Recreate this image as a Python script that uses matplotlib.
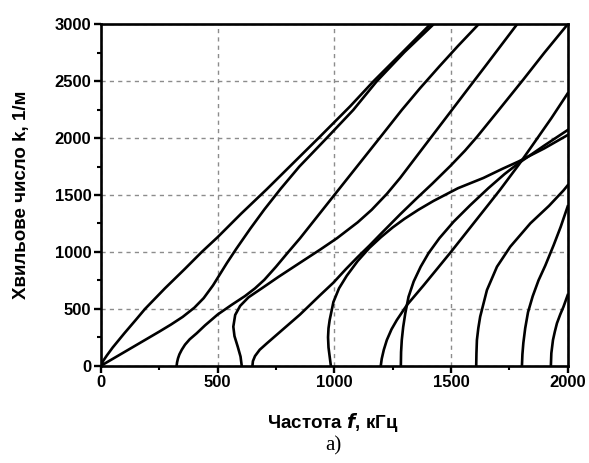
import matplotlib
matplotlib.use("Agg")
import matplotlib.pyplot as plt
from matplotlib.ticker import MultipleLocator

plt.rcParams['font.family'] = ['Liberation Sans Narrow', 'Liberation Sans', 'DejaVu Sans']
plt.rcParams['font.weight'] = 'bold'
plt.rcParams['mathtext.fontset'] = 'custom'
plt.rcParams['mathtext.it'] = 'Liberation Sans Narrow:italic:bold'
plt.rcParams['mathtext.rm'] = 'Liberation Sans Narrow:bold'

# dispersion curves: frequency (kHz) and wavenumber (1/m)
a0_f = [0, 10, 25, 50, 100, 150, 189, 274, 360, 432, 500, 600, 710, 853, 932, 1068, 1168, 1290, 1411]
a0_k = [0, 45, 90, 160, 285, 405, 500, 680, 852, 1000, 1130, 1335, 1550, 1840, 2000, 2280, 2500, 2750, 3000]

s0_f = [0, 100, 200, 250, 300, 350, 400, 440, 480, 510, 540, 580, 640, 700, 770, 850, 967,
        1081, 1182, 1300, 1425]
s0_k = [0, 120, 240, 300, 362, 429, 510, 594, 706, 805, 904, 1028, 1205, 1373, 1555, 1750, 2000,
        2247, 2500, 2755, 3000]

a1_f = [324, 326, 330, 336, 346, 360, 380, 410, 446, 500, 560, 617, 660, 700, 750, 803, 853,
        1000, 1100, 1200, 1289, 1368, 1450, 1530, 1618]
a1_k = [0, 30, 65, 100, 140, 185, 232, 285, 355, 450, 535, 612, 680, 755, 870, 1000, 1120,
        1500, 1758, 2016, 2247, 2440, 2630, 2810, 3000]

s1_f = [603, 598, 586, 572, 567, 575, 596, 632, 660, 689, 760, 853, 939, 1011, 1100, 1160,
        1225, 1282, 1397, 1490, 1568, 1650, 1783]
s1_k = [0, 80, 167, 260, 343, 446, 525, 601, 640, 680, 780, 905, 1020, 1120, 1260, 1370,
        1510, 1650, 1960, 2210, 2420, 2640, 3000]

a2_f = [649, 651, 660, 680, 711, 780, 853, 939, 996, 1050, 1100, 1150, 1200, 1282, 1350,
        1420, 1497, 1560, 1611, 1700, 1810, 1900, 2000]
a2_k = [0, 40, 85, 140, 197, 320, 450, 620, 730, 850, 955, 1055, 1160, 1330, 1465, 1600,
        1755, 1890, 2010, 2235, 2515, 2750, 3000]

s2_f = [985, 980, 975, 973, 975, 980, 996, 1020, 1053, 1100, 1150, 1200, 1250, 1300, 1360,
        1425, 1530, 1639, 1720, 1790, 1900, 2000]
s2_k = [0, 80, 160, 250, 330, 402, 560, 680, 790, 920, 1035, 1130, 1215, 1290, 1370,
        1448, 1560, 1650, 1730, 1795, 1910, 2027]

a3_f = [1199, 1203, 1212, 1225, 1245, 1268, 1311, 1382, 1440, 1497, 1550, 1604, 1660, 1711,
        1790, 1850, 1930, 2000]
a3_k = [0, 60, 140, 226, 320, 402, 533, 705, 850, 993, 1130, 1270, 1415, 1548, 1765, 1940,
        2175, 2393]

s3_f = [1285, 1286, 1289, 1295, 1304, 1318, 1340, 1370, 1404, 1450, 1511, 1582, 1660, 1730,
        1790, 1900, 2000]
s3_k = [0, 120, 226, 340, 460, 606, 740, 870, 990, 1120, 1265, 1410, 1560, 1685, 1780, 1935, 2071]

a4_f = [1608, 1609, 1611, 1617, 1625, 1654, 1697, 1754, 1840, 1920, 1982, 2000]
a4_k = [0, 110, 226, 330, 431, 665, 870, 1046, 1251, 1405, 1540, 1585]

s4_f = [1804, 1806, 1810, 1818, 1830, 1850, 1875, 1904, 1940, 1970, 2000]
s4_k = [0, 100, 200, 330, 470, 610, 750, 880, 1060, 1220, 1400]

a5_f = [1928, 1930, 1937, 1945, 1954, 1968, 1982, 2000]
a5_k = [0, 110, 226, 300, 373, 450, 518, 621]

curves = [(a0_f, a0_k), (s0_f, s0_k), (a1_f, a1_k), (s1_f, s1_k), (a2_f, a2_k),
          (s2_f, s2_k), (a3_f, a3_k), (s3_f, s3_k), (a4_f, a4_k), (s4_f, s4_k),
          (a5_f, a5_k)]

fig = plt.figure(figsize=(5.89, 4.63), dpi=100)
ax = fig.add_axes([0.1715, 0.2101, 0.7923, 0.7374])

for f, k in curves:
    ax.plot(f, k, color='black', linewidth=1.9, solid_joinstyle='round')

ax.set_xlim(0, 2000)
ax.set_ylim(0, 3000)
ax.xaxis.set_major_locator(MultipleLocator(500))
ax.xaxis.set_minor_locator(MultipleLocator(250))
ax.yaxis.set_major_locator(MultipleLocator(500))
ax.yaxis.set_minor_locator(MultipleLocator(250))
ax.grid(True, which='major', color='#8c8c8c', linestyle=(0, (3, 3)), linewidth=1.0)
ax.set_axisbelow(True)

for s in ax.spines.values():
    s.set_linewidth(1.9)
ax.tick_params(which='major', direction='out', length=5, width=1.7, labelsize=12, pad=2)
ax.tick_params(which='minor', direction='out', length=3, width=1.5)
ax.tick_params(top=False, right=False, which='both')

fig.text(333 / 589, 1 - 422 / 463, 'Частота $f$, кГц', fontsize=13.5,
         ha='center', va='center')
fig.text(22 / 589, 1 - 195 / 463, 'Хвильове число k, 1/м', fontsize=13.5,
         ha='center', va='center', rotation=90)
fig.text(333 / 589, 1 - 446 / 463, 'а)', fontsize=15, fontweight='normal',
         ha='center', va='center', family=['Liberation Serif', 'DejaVu Serif'])

fig.savefig('out.png', dpi=100)
